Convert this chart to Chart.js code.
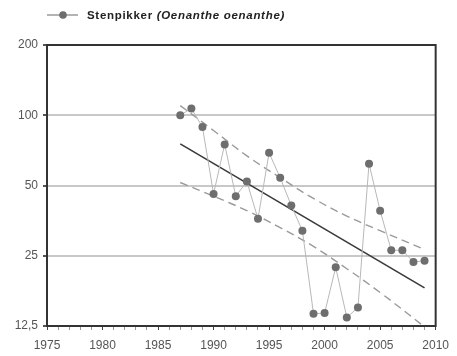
<!DOCTYPE html>
<html>
<head>
<meta charset="utf-8">
<script src="https://cdn.jsdelivr.net/npm/chart.js@4/dist/chart.umd.min.js"></script>
<style>
body { margin: 0; background: #fff; }
</style>
</head>
<body>
<canvas id="trendChart" width="457" height="356"></canvas>
<script>
var years = [1987, 1988, 1989, 1990, 1991, 1992, 1993, 1994, 1995, 1996, 1997, 1998,
             1999, 2000, 2001, 2002, 2003, 2004, 2005, 2006, 2007, 2008, 2009];
var counts = [100, 107, 89, 46, 75, 45, 52, 36, 69, 54, 41, 32,
              14.1, 14.2, 22.3, 13.6, 15, 62, 39, 26.4, 26.4, 23.5, 23.8];
var trendYears = [1987, 2009];
var trendValues = [75.4, 18.2];
var bandYears = [1987, 1990, 1993, 1996, 1999, 2002, 2005, 2009];
var upperBand = [110, 86, 67, 54, 44, 37, 32, 26.6];
var lowerBand = [51.5, 45, 39, 33, 27.4, 22, 17.4, 12.4];
var yTicks = [12.5, 25, 50, 100, 200];
var seriesName = "Stenpikker";
var latinName = "(Oenanthe oenanthe)";

function toPoints(xs, ys)
{
    return xs.map(function(x, i) { return { x: x, y: ys[i] }; });
}

// legend drawn by hand: the latin name is in italics
var legendPlugin = {
    id: 'handLegend',
    afterDraw: function(chart)
    {
        var ctx = chart.ctx;
        ctx.save();
        ctx.strokeStyle = '#9a9a9a';
        ctx.lineWidth = 1.5;
        ctx.beginPath();
        ctx.moveTo(47, 15);
        ctx.lineTo(78, 15);
        ctx.stroke();
        ctx.fillStyle = '#6e6e6e';
        ctx.beginPath();
        ctx.arc(63, 15, 3.8, 0, Math.PI * 2);
        ctx.fill();
        ctx.fillStyle = '#222';
        ctx.textBaseline = 'middle';
        ctx.letterSpacing = '0.7px';
        ctx.font = "bold 11.5px 'Liberation Sans', Arial, sans-serif";
        ctx.fillText(seriesName, 87, 15.5);
        var w = ctx.measureText(seriesName + " ").width;
        ctx.font = "italic bold 11.5px 'Liberation Sans', Arial, sans-serif";
        ctx.fillText(latinName, 87 + w, 15.5);
        ctx.restore();
    }
};

var framePlugin = {
    id: 'frame',
    afterDraw: function(chart)
    {
        var a = chart.chartArea;
        var ctx = chart.ctx;
        ctx.save();
        ctx.strokeStyle = '#333';
        ctx.lineWidth = 2;
        ctx.strokeRect(a.left, a.top, a.right - a.left, a.bottom - a.top);
        ctx.restore();
    }
};

function TrendChart()
{
    new Chart("trendChart", {
        type: "line",
        data: {
            datasets: [{
                data: toPoints(years, counts),
                borderColor: "#b8b8b8",
                borderWidth: 1,
                pointRadius: 4,
                pointBackgroundColor: "#6e6e6e",
                pointBorderColor: "#6e6e6e",
                pointBorderWidth: 0,
                tension: 0
            }, {
                data: toPoints(trendYears, trendValues),
                borderColor: "#3a3a3a",
                borderWidth: 1.6,
                pointRadius: 0
            }, {
                data: toPoints(bandYears, upperBand),
                borderColor: "#9a9a9a",
                borderWidth: 1.4,
                borderDash: [8, 5],
                pointRadius: 0,
                tension: 0.4
            }, {
                data: toPoints(bandYears, lowerBand),
                borderColor: "#9a9a9a",
                borderWidth: 1.4,
                borderDash: [8, 5],
                pointRadius: 0,
                tension: 0.4
            }]
        },
        options: {
            responsive: false,
            animation: false,
            layout: { padding: { top: 45, right: 20, left: 0, bottom: 0 } },
            plugins: {
                legend: { display: false },
                tooltip: { enabled: false }
            },
            scales: {
                x: {
                    type: 'linear',
                    min: 1975,
                    max: 2010,
                    border: { display: false },
                    grid: {
                        drawOnChartArea: false,
                        tickLength: 4,
                        tickColor: function(c) { return c.tick && c.tick.value % 5 === 0 ? '#444' : '#999'; }
                    },
                    ticks: {
                        stepSize: 1,
                        autoSkip: false,
                        maxRotation: 0,
                        padding: 8,
                        color: '#555',
                        font: { family: "'Liberation Sans', Arial, sans-serif", size: 12 },
                        callback: function(v) { return v % 5 === 0 ? String(v) : ''; }
                    },
                    afterFit: function(scale) { scale.height = 30; }
                },
                y: {
                    type: 'logarithmic',
                    min: 12.5,
                    max: 200,
                    border: { display: false },
                    grid: {
                        color: function(c) { return c.tick && c.tick.value > 12.5 && c.tick.value < 200 ? '#c8c8c8' : 'rgba(0,0,0,0)'; },
                        lineWidth: 2,
                        tickLength: 4,
                        tickColor: '#555'
                    },
                    afterBuildTicks: function(scale)
                    {
                        scale.ticks = yTicks.map(function(v) { return { value: v }; });
                    },
                    ticks: {
                        padding: 5,
                        color: '#555',
                        font: { family: "'Liberation Sans', Arial, sans-serif", size: 12 },
                        callback: function(v) { return String(v).replace('.', ','); }
                    },
                    afterFit: function(scale) { scale.width = 47; }
                }
            }
        },
        plugins: [legendPlugin, framePlugin]
    });
}

TrendChart();
</script>
</body>
</html>
